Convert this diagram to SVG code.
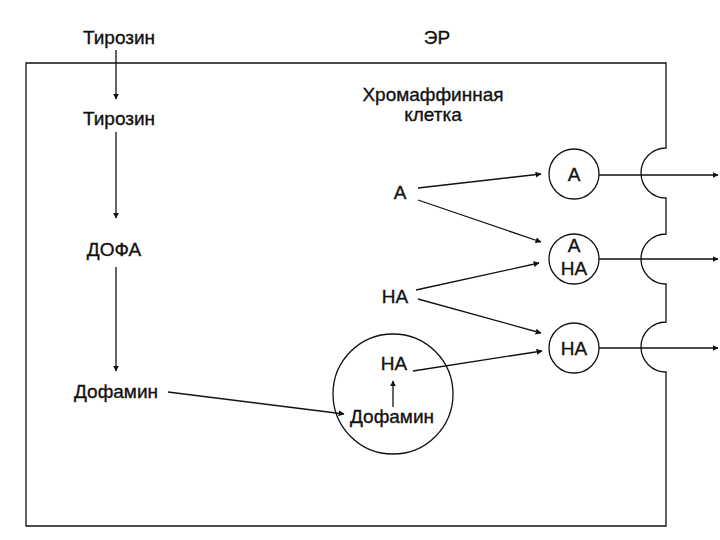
<svg xmlns="http://www.w3.org/2000/svg" width="720" height="540" viewBox="0 0 720 540">
<style>
text{font-family:"Liberation Sans",Arial,sans-serif;font-size:19px;fill:#111;stroke:#111;stroke-width:0.35;text-anchor:middle}
.ln{stroke:#111;stroke-width:1.3;fill:none}
.c{stroke:#111;stroke-width:1.3;fill:#fff}
</style>
<defs>
<marker id="ah" viewBox="0 0 10 10" refX="9" refY="5" markerWidth="6" markerHeight="6" markerUnits="userSpaceOnUse" orient="auto">
<path d="M0,0 L10,5 L0,10 Z" fill="#111"/>
</marker>
</defs>
<rect width="720" height="540" fill="#fff"/>
<g id="cell">
<path class="ln" d="M26,63 H666 V148 A25,25 0 0 0 666,198 V234 A25,25 0 0 0 666,284 V322 A25,25 0 0 0 666,372 V526 H26 Z"/>
</g>
<g id="labels">
<text x="119" y="44">Тирозин</text>
<text x="437" y="44">ЭР</text>
<text x="433" y="101">Хромаффинная</text>
<text x="433" y="121">клетка</text>
</g>
<g id="tyr2"><text x="119" y="125">Тирозин</text></g>
<g id="dopa"><text x="114" y="256">ДОФА</text></g>
<g id="dopamine"><text x="116" y="398">Дофамин</text></g>
<g id="a-left"><text x="400" y="199">А</text></g>
<g id="na-mid"><text x="395" y="303">НА</text></g>
<g id="granule">
<circle class="c" cx="393" cy="394" r="60"/>
<text x="394" y="370">НА</text>
<text x="392" y="423">Дофамин</text>
</g>
<g id="vesA">
<circle class="c" cx="574" cy="174" r="25"/>
<text x="574" y="181">А</text>
</g>
<g id="vesANA">
<circle class="c" cx="574" cy="259" r="25"/>
<text x="574" y="252">А</text>
<text x="574" y="275">НА</text>
</g>
<g id="vesNA">
<circle class="c" cx="574" cy="348" r="25"/>
<text x="574" y="355">НА</text>
</g>
<g id="connectors">
<line class="ln" x1="116" y1="50" x2="116" y2="99" marker-end="url(#ah)"/>
<line class="ln" x1="116" y1="132" x2="116" y2="218" marker-end="url(#ah)"/>
<line class="ln" x1="116" y1="267" x2="116" y2="371" marker-end="url(#ah)"/>
<line class="ln" x1="168" y1="392" x2="344" y2="414" marker-end="url(#ah)"/>
<line class="ln" x1="393" y1="407" x2="393" y2="381" marker-end="url(#ah)"/>
<line class="ln" x1="413" y1="371" x2="542" y2="351" marker-end="url(#ah)"/>
<line class="ln" x1="418" y1="188" x2="541" y2="174" marker-end="url(#ah)"/>
<line class="ln" x1="418" y1="200" x2="541" y2="242" marker-end="url(#ah)"/>
<line class="ln" x1="416" y1="290" x2="539" y2="263" marker-end="url(#ah)"/>
<line class="ln" x1="418" y1="299" x2="541" y2="333" marker-end="url(#ah)"/>
<line class="ln" x1="599" y1="175" x2="718" y2="175" marker-end="url(#ah)"/>
<line class="ln" x1="599" y1="259" x2="718" y2="259" marker-end="url(#ah)"/>
<line class="ln" x1="599" y1="348" x2="718" y2="348" marker-end="url(#ah)"/>
</g>
</svg>
